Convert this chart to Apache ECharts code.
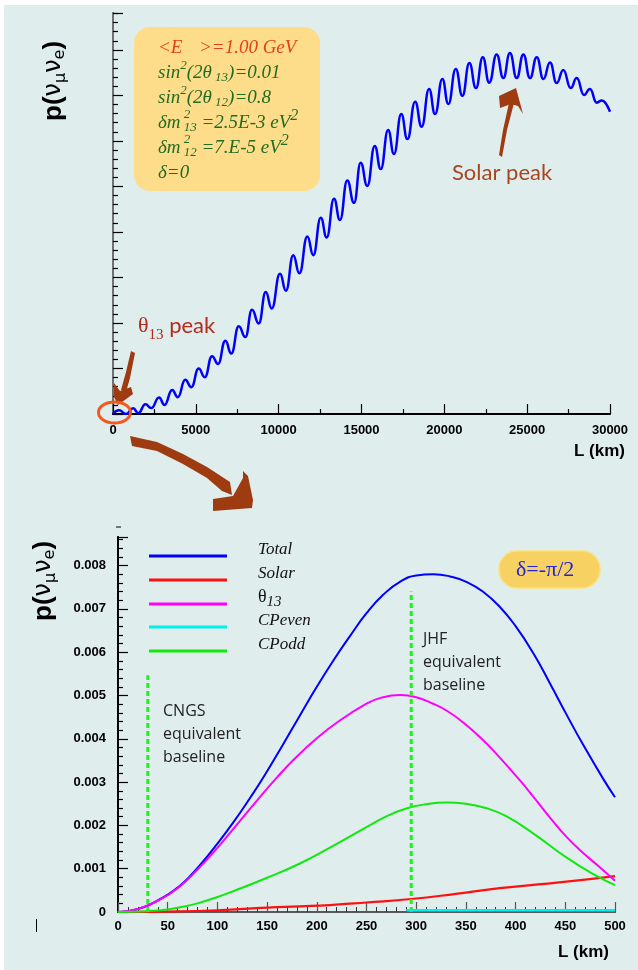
<!DOCTYPE html>
<html><head><meta charset="utf-8">
<script src="https://cdn.jsdelivr.net/npm/echarts@6/dist/echarts.min.js"></script>
<style>html,body{margin:0;padding:0;background:#fff}#c{width:638px;height:970px}</style>
</head><body><div id="c"></div>
<script>
// ---------- DATA ----------
// Top panel: total probability vs L (km), extrema of the oscillating curve
const topL = [0,360,785,1220,1520,1960,2310,2780,3110,3570,3910,4360,4730,5170,5540,5980,6340,6780,7140,7590,7990,8390,8800,9220,9580,10080,10440,10880,11250,11730,12090,12540,12900,13340,13700,14140,14550,14950,15350,15800,16160,16610,16960,17400,17770,18240,18630,19080,19440,19880,20240,20690,21090,21510,21910,22320,22710,23160,23560,23960,24370,24770,25170,25580,25980,26380,26780,27180,27630,27990,28430,28790,29200,29500,30000];
const topP = [0,0.008,0,0.0125,0.002,0.0215,0.013,0.036,0.020,0.053,0.037,0.075,0.059,0.100,0.081,0.127,0.110,0.161,0.133,0.193,0.169,0.229,0.199,0.268,0.232,0.308,0.271,0.349,0.309,0.390,0.349,0.431,0.388,0.473,0.426,0.513,0.464,0.552,0.501,0.589,0.538,0.624,0.571,0.659,0.604,0.686,0.631,0.714,0.659,0.736,0.681,0.758,0.699,0.771,0.716,0.784,0.728,0.790,0.738,0.793,0.738,0.790,0.738,0.784,0.736,0.772,0.727,0.756,0.716,0.738,0.701,0.714,0.684,0.689,0.664];
const topXTicks = [0,5000,10000,15000,20000,25000,30000];

// Bottom panel (0-500 km)
const totalL = [0,10,20,30,40,50,62,70,82,99,116,133,146,165,183,200,217,233,250,267,284,300,317,334,351,367,384,400,418,435,451,468,488,500];
const totalP = [0,0.00002,0.00007,0.00015,0.00027,0.0004,0.0006,0.00077,0.00107,0.00155,0.00207,0.00264,0.0031,0.00383,0.00454,0.0052,0.00582,0.00636,0.0069,0.00733,0.00763,0.00777,0.0078,0.00775,0.00762,0.0074,0.00705,0.0066,0.00597,0.00526,0.00457,0.00386,0.00308,0.00265];
const thetaL = [0,20,40,60,80,100,120,140,160,180,200,220,250,265,284,300,317,332,347,365,380,404,420,435,451,468,485,500];
const thetaP = [0,0.00007,0.00026,0.00055,0.00098,0.00148,0.00203,0.00258,0.00311,0.00359,0.00401,0.00437,0.00481,0.00495,0.00501,0.00496,0.00481,0.00463,0.00438,0.00402,0.00367,0.00305,0.0026,0.00217,0.00174,0.00136,0.00103,0.00072];
const oddL = [0,30,50,65,80,98,116,150,183,216,250,270,290,310,330,350,370,390,418,451,480,500];
const oddP = [0,0.00002,0.00006,0.00012,0.0002,0.00033,0.00048,0.00079,0.00112,0.00152,0.00196,0.00221,0.00239,0.00249,0.00253,0.0025,0.0024,0.00222,0.00181,0.00126,0.00085,0.00062];
const solarL = [0,50,100,150,183,213,250,295,340,384,420,451,500];
const solarP = [0,0.00001,0.00004,0.0001,0.00013,0.00016,0.00022,0.0003,0.00042,0.00055,0.00063,0.0007,0.00083];
const evenL = [290,350,400,450,500];
const evenP = [0.00004,0.00004,0.00004,0.00004,0.00004];
const cngsL = [30,30], cngsP = [0,0.00547];
const jhfL = [295,295], jhfP = [0,0.0074];
const legendNames = ['Total','Solar','θ13','CPeven','CPodd'];
const legendColors = ['#0000ff','#ff1010','#ff00ff','#00f0f0','#10e810'];

// ---------- helpers ----------
const zip = (a,b)=>a.map((v,i)=>[v,b[i]]);
const mctx = document.createElement('canvas').getContext('2d');
function tw(t,f){mctx.font=f;return mctx.measureText(t).width;}
function seq(x,y,pieces,fill,z){
  const out=[];let cx=x;
  pieces.forEach(p=>{
    if(p.ax!==undefined) cx=p.ax;
    out.push({type:'text',x:cx+(p.dx||0),y:y+(p.dy||0),silent:true,z:z||60,
      style:{text:p.t,font:p.f,fill:p.c||fill,verticalAlign:'middle',align:'left'}});
    if(!p.noAdv) cx+=tw(p.t,p.f)+(p.dx||0);
  });
  return out;
}
const SI='italic 19px "Liberation Serif"', SS='italic 13px "Liberation Serif"';
const RED='#e4401c', GRN='#236b23', BRN='#9f3b10';
const AX='#000';
const lab={fontFamily:'Liberation Sans',fontWeight:'bold',fontSize:13,color:'#000'};

const boxText=[].concat(
  seq(158,48,[{t:'<E',f:SI},{t:'>=1.00 GeV',f:SI,ax:199}],RED),
  seq(158,73,[{t:'sin',f:SI},{t:'2',f:SS,dy:-7},{t:'(2θ',f:SI},{t:' 13',f:SS,dy:5},{t:')=0.01',f:SI}],GRN),
  seq(158,98,[{t:'sin',f:SI},{t:'2',f:SS,dy:-7},{t:'(2θ',f:SI},{t:' 12',f:SS,dy:5},{t:')=0.8',f:SI}],GRN),
  seq(158,123,[{t:'δm',f:SI},{t:' 2',f:SS,dy:-8,noAdv:true},{t:' 13',f:SS,dy:5},{t:' =2.5E-3 eV',f:SI},{t:'2',f:'italic 16px "Liberation Serif"',dy:-7}],GRN),
  seq(158,148,[{t:'δm',f:SI},{t:' 2',f:SS,dy:-8,noAdv:true},{t:' 12',f:SS,dy:5},{t:' =7.E-5 eV',f:SI},{t:'2',f:'italic 16px "Liberation Serif"',dy:-7}],GRN),
  seq(158,173,[{t:'δ=0',f:SI}],GRN)
);

function ytitle(x,y){
  const B='bold 26px "Liberation Sans"', N='24px "DejaVu Sans"', S='16px "DejaVu Sans"';
  return {type:'group',x:x,y:y,rotation:Math.PI/2,silent:true,z:60,
    children:seq(0,0,[{t:'p(',f:B},{t:'ν',f:N},{t:'μ',f:S,dy:7},{t:'ν',f:N},{t:'e',f:S,dy:6},{t:')',f:B}],'#000')};
}

// legend (bottom panel)
const LF='italic 17px "Liberation Serif"';
const legendY=[556,580,604,627,651];
const legendG=[];
legendNames.forEach((n,i)=>{
  legendG.push({type:'line',silent:true,z:60,shape:{x1:149,y1:legendY[i],x2:227,y2:legendY[i]},style:{stroke:legendColors[i],lineWidth:3}});
  const pcs = n==='θ13' ? [{t:'θ',f:'18px "Liberation Serif"'},{t:'13',f:'italic 15px "Liberation Serif"',dy:5}] : [{t:n,f:LF}];
  legendG.push(...seq(258,legendY[i]-6.5,pcs,'#111'));
});

const poly=(pts,fill)=>({type:'polygon',silent:true,z:55,shape:{points:pts},style:{fill:fill}});
const TF='16px "Open Sans"';

const graphics=[
  {type:'rect',z:-100,silent:true,shape:{x:4,y:5,width:634,height:965},style:{fill:'#e0eded'}},
  {type:'rect',z:40,silent:true,shape:{x:134,y:27,width:186,height:164,r:16},style:{fill:'#fedd8a'}},
  ...boxText,
  ytitle(54,121), ytitle(44,621),
  ...legendG,
  // Solar peak
  ...seq(452,173,[{t:'Solar peak',f:'22px Lato'}],'#a54820'),
  poly([[516,88],[523,114],[518,106],[511,104],[500,108],[499,96]],BRN),
  poly([[509,103],[514,103],[507,130],[502,157],[499,155],[503,130]],BRN),
  // theta13 peak
  ...seq(138,326,[{t:'θ',f:'22px "Liberation Serif"'},{t:'13',f:'15px "Liberation Serif"',dy:9},{t:' peak',f:'22px Lato',dy:0}],'#b42a1e'),
  poly([[131,351],[135,353],[130,378],[126,392],[121,390],[126,372]],BRN),
  poly([[114,383],[120,391],[131,387],[133,394],[118,405],[114,397]],BRN),
  {type:'ellipse',silent:true,z:56,shape:{cx:114.5,cy:412.5,rx:16,ry:10.5},style:{fill:'none',stroke:'#f4581e',lineWidth:3}},
  // big arrow
  poly([[130,436],[157,442],[183,454],[207,467],[230,482],[232,495],[222,491],[207,478],[183,464],[157,451],[132,446]],BRN),
  poly([[213,499],[233,496],[243,478],[243,471],[248,476],[253,500],[252,508],[213,511]],BRN),
  // axis titles
  {type:'text',silent:true,z:60,x:625,y:451,style:{text:'L (km)',font:'bold 17px "Liberation Sans"',fill:'#000',align:'right',verticalAlign:'middle'}},
  {type:'text',silent:true,z:60,x:609,y:952,style:{text:'L (km)',font:'bold 17px "Liberation Sans"',fill:'#000',align:'right',verticalAlign:'middle'}},
  // delta box
  {type:'rect',z:40,silent:true,shape:{x:499,y:551,width:101,height:37,r:18},style:{fill:'#f7d263',stroke:'#fbe27a',lineWidth:1.5}},
  ...seq(516,570,[{t:'δ=-π/2',f:'22px "Liberation Serif"'}],'#2323d8'),
  // baseline labels
  ...seq(163,711,[{t:'CNGS',f:TF}],'#222'),
  ...seq(163,734,[{t:'equivalent',f:TF}],'#222'),
  ...seq(163,757,[{t:'baseline',f:TF}],'#222'),
  ...seq(423,639,[{t:'JHF',f:TF}],'#222'),
  ...seq(423,662,[{t:'equivalent',f:TF}],'#222'),
  ...seq(423,685,[{t:'baseline',f:TF}],'#222'),
  // stray marks
  {type:'line',silent:true,shape:{x1:116,y1:527,x2:121,y2:527},style:{stroke:'#000',lineWidth:1}},
  {type:'line',silent:true,shape:{x1:36.5,y1:919,x2:36.5,y2:932},style:{stroke:'#000',lineWidth:1}}
];

const chart=echarts.init(document.getElementById('c'),null,{renderer:'canvas'});
const tickFmt=v=>{const k=v*1000;if(Math.abs(k-Math.round(k))>1e-6)return '';return v===0?'0':v.toFixed(3);};
const lineS=(name,data,color,xi,w,extra)=>Object.assign({type:'line',name:name,data:data,xAxisIndex:xi,yAxisIndex:xi,
  showSymbol:false,symbol:'none',smooth:true,lineStyle:{color:color,width:w||2},itemStyle:{color:color},z:5,animation:false},extra||{});

chart.setOption({
  animation:false,
  backgroundColor:'transparent',
  grid:[{left:113,top:13,width:497,height:401},{left:118,top:537,width:497,height:375}],
  xAxis:[
    {type:'value',gridIndex:0,min:0,max:30000,interval:5000,
      axisLine:{lineStyle:{color:AX,width:2}},axisTick:{inside:true,length:10,lineStyle:{color:'#000',width:1.2}},
      minorTick:{show:true,splitNumber:2,length:5,lineStyle:{color:'#000',width:1.2}},
      splitLine:{show:false},axisLabel:Object.assign({margin:10,formatter:v=>topXTicks.indexOf(v)>=0?String(v):''},lab)},
    {type:'value',gridIndex:1,min:0,max:500,interval:50,
      axisLine:{lineStyle:{color:'#333',width:2}},axisTick:{inside:true,length:10,lineStyle:{color:'#555',width:1.2}},
      minorTick:{show:true,splitNumber:5,length:5,lineStyle:{color:'#333',width:1}},
      splitLine:{show:false},axisLabel:Object.assign({margin:8},lab)},
    {type:'value',gridIndex:0,position:'top',min:0,max:30000,axisLine:{lineStyle:{color:'#000',width:1.5}},axisTick:{show:false},axisLabel:{show:false},splitLine:{show:false}},
    {type:'value',gridIndex:1,position:'top',min:0,max:500,axisLine:{lineStyle:{color:'#666',width:1.5}},axisTick:{show:false},axisLabel:{show:false},splitLine:{show:false}}
  ],
  yAxis:[
    {type:'value',gridIndex:0,min:0,max:0.881,interval:0.1,
      axisLine:{show:true,lineStyle:{color:AX,width:1.5}},axisTick:{inside:true,length:10,lineStyle:{color:'#000',width:1.2}},
      minorTick:{show:true,splitNumber:5,length:5,lineStyle:{color:'#000',width:1.2}},
      splitLine:{show:false},axisLabel:{show:false}},
    {type:'value',gridIndex:1,min:0,max:0.00866,interval:0.001,
      axisLine:{show:true,lineStyle:{color:'#000',width:1.5}},axisTick:{inside:true,length:10,lineStyle:{color:'#000',width:1.2}},
      minorTick:{show:true,splitNumber:5,length:5,lineStyle:{color:'#000',width:1.2}},
      splitLine:{show:false},axisLabel:Object.assign({margin:12,formatter:tickFmt},lab)},
    {type:'value',gridIndex:0,position:'right',min:0,max:0.881,axisLine:{show:true,lineStyle:{color:'#6e7272',width:2}},axisTick:{show:false},axisLabel:{show:false},splitLine:{show:false}},
    {type:'value',gridIndex:1,position:'right',min:0,max:0.00866,axisLine:{show:true,lineStyle:{color:'#000',width:2}},axisTick:{show:false},axisLabel:{show:false},splitLine:{show:false}}
  ],
  graphic:graphics,
  series:[
    lineS('top',zip(topL,topP),'#0000ff',0,2.5,{smooth:0.5,smoothMonotone:'x'}),
    lineS('Total',zip(totalL,totalP),'#0000ff',1,2),
    lineS('Solar',zip(solarL,solarP),'#ff1010',1,2.2),
    lineS('θ13',zip(thetaL,thetaP),'#ff00ff',1,2),
    lineS('CPeven',zip(evenL,evenP),'#00f0f0',1,2.5,{z:6}),
    lineS('CPodd',zip(oddL,oddP),'#10e810',1,2),
    lineS('CNGS',zip(cngsL,cngsP),'#22ee22',1,3,{smooth:false,lineStyle:{color:'#22ee22',width:3,type:[5,3]}}),
    lineS('JHF',zip(jhfL,jhfP),'#22ee22',1,3,{smooth:false,lineStyle:{color:'#22ee22',width:3,type:[5,3]}})
  ]
});
</script></body></html>
